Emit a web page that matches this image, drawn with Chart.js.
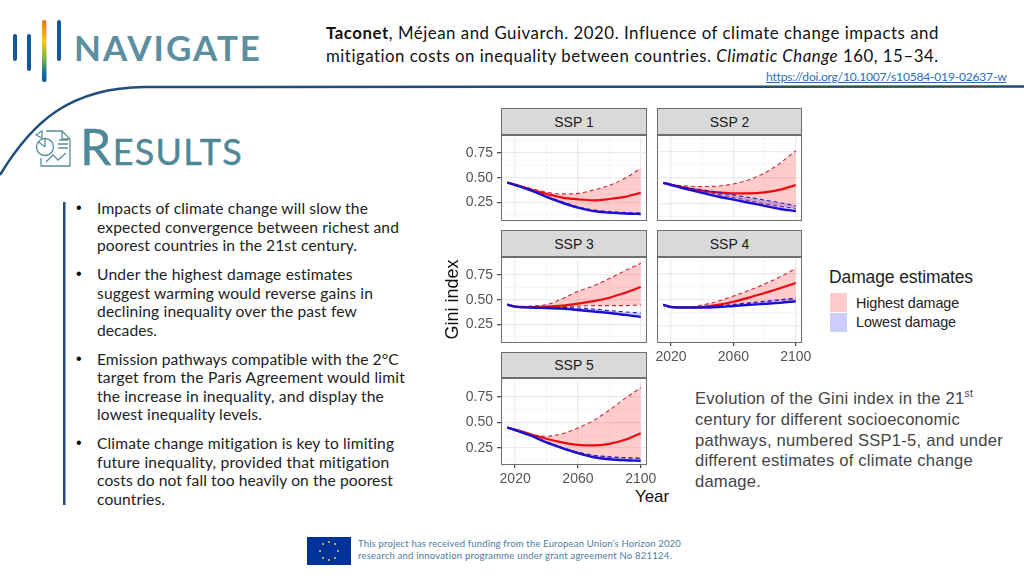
<!DOCTYPE html>
<html><head><meta charset="utf-8">
<script src="https://cdn.jsdelivr.net/npm/chart.js@4/dist/chart.umd.min.js"></script>
<style>
html,body{margin:0;padding:0;background:#fff;width:1024px;height:576px;overflow:hidden}
body{position:relative;font-family:Lato,sans-serif}
.t{position:absolute;white-space:nowrap;line-height:1;transform:translateY(-50%)}
canvas{position:absolute;filter:blur(.3px)}
.strip{position:absolute;background:#d9d9d9;border:1px solid #6e6e6e;box-sizing:border-box;text-align:center;font:14px "Liberation Sans",sans-serif;color:#1a1a1a}
.frame{position:absolute;border:1.4px solid #6e6e6e;box-sizing:border-box;pointer-events:none}
.body{font-size:15.600px;color:#222;margin-top:.6px}
.cap{font:16.600px "Liberation Sans",sans-serif;color:#444;margin-top:1px}
sup{font-size:.62em;line-height:0}
</style></head><body>
<svg width="1024" height="576" style="position:absolute;left:0;top:0">
<defs><linearGradient id="g" x1="0" y1="0" x2="0" y2="1"><stop offset="0" stop-color="#e8771c"/><stop offset=".35" stop-color="#f4cb1b"/><stop offset=".65" stop-color="#6fb04a"/><stop offset=".85" stop-color="#12709c"/><stop offset="1" stop-color="#0f5c9e"/></linearGradient></defs>
<g fill="#12599b"><rect x="13" y="34" width="4" height="27" rx="2"/><rect x="27" y="34" width="4" height="37" rx="2"/><rect x="57" y="20" width="4" height="41" rx="2"/></g>
<rect x="42" y="20" width="4.500" height="62" rx="2" fill="url(#g)"/>
<path d="M0 175C32 122 70 87.500 145 87L1024 86.500" fill="none" stroke="#1f4e79" stroke-width="2.500"/>
<g fill="none" stroke="#5b8f9b" stroke-width="1.300">
<path d="M46 131H62L70 139V166H41V158"/><path d="M62 131V139H70"/>
<circle cx="45" cy="147" r="8.500"/><path d="M45 147V139M45 147L38 141.500M36 135L42 131L42 138Z"/>
<path d="M59 140H68M58 144H68M58 148H68"/><path d="M46 162L53 155L58 160L66 153"/>
</g>
<rect x="307" y="537" width="44" height="28" fill="#003399"/>
<g fill="#e8d44a"><circle cx="329" cy="542" r="1"/><circle cx="335" cy="544" r="1"/><circle cx="338" cy="551" r="1"/><circle cx="335" cy="558" r="1"/><circle cx="329" cy="560" r="1"/><circle cx="323" cy="558" r="1"/><circle cx="320" cy="551" r="1"/><circle cx="323" cy="544" r="1"/></g>
<rect x="63" y="202" width="2.500" height="303" fill="#1f4e79"/>
<rect x="830" y="293" width="17" height="19" fill="#ffcccc"/><rect x="830" y="313" width="17" height="19" fill="#ccccff"/>
</svg>

<div class="t fit" data-x="74" data-y="47" data-r="262" style="font:700 35px Lato,sans-serif;color:#5b8fa0">NAVIGATE</div>
<div class="t fit" data-x="80" data-y="146" data-r="243" style="color:#4f8898;font-size:36px;-webkit-text-stroke:.4px #4f8898"><span style="font-size:50px">R</span>ESULTS</div>

<div class="t fit" data-x="326" data-y="33" data-r="939" style="font-size:16.800px;color:#111"><b>Taconet</b>, Méjean and Guivarch. 2020. Influence of climate change impacts and</div>
<div class="t fit" data-x="326" data-y="56" data-r="939" style="font-size:16.800px;color:#111">mitigation costs on inequality between countries. <i>Climatic Change</i> 160, 15–34.</div>
<div class="t fit" data-x="766" data-y="77" data-r="1006" style="font-size:12px;color:#2b6cb5;text-decoration:underline">https://doi.org/10.1007/s10584-019-02637-w</div>

<div class="t" style="left:76px;top:208px;font:16px 'Liberation Sans'">•</div>
<div class="t" style="left:76px;top:274px;font:16px 'Liberation Sans'">•</div>
<div class="t" style="left:76px;top:359px;font:16px 'Liberation Sans'">•</div>
<div class="t" style="left:76px;top:443px;font:16px 'Liberation Sans'">•</div>
<div class="t fit body" data-x="97" data-y="208" data-r="368">Impacts of climate change will slow the</div>
<div class="t fit body" data-x="97" data-y="227" data-r="399">expected convergence between richest and</div>
<div class="t fit body" data-x="97" data-y="245" data-r="357">poorest countries in the 21st century.</div>
<div class="t fit body" data-x="97" data-y="274" data-r="353">Under the highest damage estimates</div>
<div class="t fit body" data-x="97" data-y="293" data-r="373">suggest warming would reverse gains in</div>
<div class="t fit body" data-x="97" data-y="311" data-r="357">declining inequality over the past few</div>
<div class="t fit body" data-x="97" data-y="330" data-r="157">decades.</div>
<div class="t fit body" data-x="97" data-y="359" data-r="399">Emission pathways compatible with the 2°C</div>
<div class="t fit body" data-x="97" data-y="377" data-r="405">target from the Paris Agreement would limit</div>
<div class="t fit body" data-x="97" data-y="396" data-r="384">the increase in inequality, and display the</div>
<div class="t fit body" data-x="97" data-y="414" data-r="262">lowest inequality levels.</div>
<div class="t fit body" data-x="97" data-y="443" data-r="395">Climate change mitigation is key to limiting</div>
<div class="t fit body" data-x="97" data-y="462" data-r="390">future inequality, provided that mitigation</div>
<div class="t fit body" data-x="97" data-y="480" data-r="393">costs do not fall too heavily on the poorest</div>
<div class="t fit body" data-x="97" data-y="499" data-r="165">countries.</div>

<div class="t fit cap" data-x="695" data-y="398" data-r="973">Evolution of the Gini index in the 21<sup>st</sup></div>
<div class="t fit cap" data-x="695" data-y="419" data-r="960">century for different socioeconomic</div>
<div class="t fit cap" data-x="695" data-y="440" data-r="1003">pathways, numbered SSP1-5, and under</div>
<div class="t fit cap" data-x="695" data-y="460" data-r="973">different estimates of climate change</div>
<div class="t fit cap" data-x="695" data-y="481" data-r="761">damage.</div>

<div class="t fit" data-x="829" data-y="277" data-r="973" style="font:17.500px 'Liberation Sans',sans-serif;color:#222">Damage estimates</div>
<div class="t fit" data-x="856" data-y="303" data-r="959" style="font:14.400px 'Liberation Sans',sans-serif;color:#222">Highest damage</div>
<div class="t fit" data-x="856" data-y="322" data-r="956" style="font:14.400px 'Liberation Sans',sans-serif;color:#222">Lowest damage</div>
<div class="t fit" data-x="635" data-y="497" data-r="669" style="font:17px 'Liberation Sans',sans-serif;color:#111">Year</div>

<div class="t fit" data-x="358" data-y="544" data-r="681" style="font-size:9.500px;color:#4b7ba0">This project has received funding from the European Union’s Horizon 2020</div>
<div class="t fit" data-x="358" data-y="556" data-r="672" style="font-size:9.500px;color:#4b7ba0">research and innovation programme under grant agreement No 821124.</div>

<script>
const years = [2015,2020,2030,2040,2050,2060,2070,2080,2090,2100];
const xTicksMajor = [2020,2060,2100];
const xTicksMinor = [2040,2080];
const yTicksMajor = [0.25,0.5,0.75];
const yTicksMinor = [0.125,0.375,0.625,0.875];
const panelNames = ['SSP 1','SSP 2','SSP 3','SSP 4','SSP 5'];

const ssp1RedLow  = [.45,.43,.375,.315,.255,.205,.17,.155,.145,.14];
const ssp1RedHigh = [.45,.43,.39,.352,.335,.34,.375,.42,.495,.595];
const ssp1RedMid  = [.45,.43,.38,.335,.298,.28,.27,.283,.305,.345];
const ssp1BlueLow = [.45,.425,.37,.305,.245,.195,.16,.145,.135,.13];
const ssp1BlueHigh= [.45,.43,.375,.31,.25,.2,.17,.155,.145,.14];
const ssp1BlueMid = [.45,.425,.37,.305,.245,.195,.16,.145,.135,.13];

const ssp2RedLow  = [.45,.435,.40,.37,.34,.31,.28,.25,.225,.205];
const ssp2RedHigh = [.45,.435,.42,.415,.42,.44,.48,.545,.64,.76];
const ssp2RedMid  = [.45,.435,.40,.375,.36,.35,.35,.36,.385,.43];
const ssp2BlueLow = [.45,.43,.39,.355,.32,.29,.26,.23,.2,.18];
const ssp2BlueHigh= [.45,.435,.405,.385,.36,.335,.31,.285,.26,.23];
const ssp2BlueMid = [.45,.43,.39,.355,.32,.29,.26,.23,.2,.18];

const ssp3RedLow  = [.45,.43,.425,.425,.43,.435,.44,.44,.44,.445];
const ssp3RedHigh = [.45,.43,.435,.45,.51,.585,.64,.715,.795,.87];
const ssp3RedMid  = [.45,.43,.425,.43,.44,.46,.485,.52,.57,.63];
const ssp3BlueLow = [.45,.43,.42,.415,.41,.395,.38,.365,.345,.325];
const ssp3BlueHigh= [.45,.43,.42,.42,.42,.415,.405,.39,.375,.365];
const ssp3BlueMid = [.45,.43,.42,.415,.41,.395,.38,.365,.345,.325];

const ssp4RedLow  = [.45,.43,.425,.43,.44,.45,.465,.48,.495,.51];
const ssp4RedHigh = [.45,.43,.43,.45,.485,.535,.59,.65,.72,.80];
const ssp4RedMid  = [.45,.43,.425,.43,.45,.48,.52,.565,.61,.66];
const ssp4BlueLow = [.45,.43,.425,.425,.43,.44,.45,.46,.47,.485];
const ssp4BlueHigh= [.45,.43,.425,.43,.44,.455,.47,.485,.50,.515];
const ssp4BlueMid = [.45,.43,.425,.425,.43,.44,.45,.46,.47,.485];

const ssp5RedLow  = [.45,.425,.375,.31,.255,.205,.175,.16,.155,.15];
const ssp5RedHigh = [.45,.43,.38,.365,.39,.445,.52,.62,.735,.84];
const ssp5RedMid  = [.45,.43,.385,.34,.305,.28,.275,.29,.33,.395];
const ssp5BlueLow = [.45,.425,.37,.305,.25,.2,.16,.14,.13,.125];
const ssp5BlueHigh= [.45,.43,.375,.31,.255,.21,.18,.165,.155,.15];
const ssp5BlueMid = [.45,.425,.37,.305,.25,.2,.16,.14,.13,.125];

const seriesByPanel = [
 [ssp1RedLow,ssp1RedHigh,ssp1RedMid,ssp1BlueLow,ssp1BlueHigh,ssp1BlueMid],
 [ssp2RedLow,ssp2RedHigh,ssp2RedMid,ssp2BlueLow,ssp2BlueHigh,ssp2BlueMid],
 [ssp3RedLow,ssp3RedHigh,ssp3RedMid,ssp3BlueLow,ssp3BlueHigh,ssp3BlueMid],
 [ssp4RedLow,ssp4RedHigh,ssp4RedMid,ssp4BlueLow,ssp4BlueHigh,ssp4BlueMid],
 [ssp5RedLow,ssp5RedHigh,ssp5RedMid,ssp5BlueLow,ssp5BlueHigh,ssp5BlueMid]];

const geo = [
 {l:501,r:647,st:108,t:135,b:220,yAxis:true,xAxis:false},
 {l:657,r:802,st:108,t:135,b:220,yAxis:false,xAxis:false},
 {l:501,r:647,st:230,t:257,b:342,yAxis:true,xAxis:false,yTitle:'Gini index'},
 {l:657,r:802,st:230,t:257,b:342,yAxis:false,xAxis:true},
 {l:501,r:647,st:352,t:378,b:464,yAxis:true,xAxis:true}];

const pts = a => a.map((v,i)=>({x:years[i],y:v}));
const line = (a,color,w,dash,order) => ({data:pts(a),borderColor:color,borderWidth:w,borderDash:dash,order,fill:false,
  pointRadius:0,cubicInterpolationMode:'monotone'});

geo.forEach((g,i)=>{
  const padT=10,padB=10,padL=g.yAxis?0:20,padR=22, yW=g.yAxis?61:0, xH=g.xAxis?26:0;
  const c=document.createElement('canvas');
  c.width=padL+yW+(g.r-g.l)+padR; c.height=padT+(g.b-g.t)+xH+padB;
  c.style.left=(g.l-yW-padL)+'px'; c.style.top=(g.t-padT)+'px';
  document.body.appendChild(c);
  const s=seriesByPanel[i];
  const ds=[
    line(s[0],'#c8283c',1.1,[4,3],6),
    Object.assign(line(s[1],'#c8283c',1.1,[4,3],6),{fill:'-1',backgroundColor:'rgba(255,0,0,.2)'}),
    line(s[2],'#ee0a10',2.2,[],5),
    line(s[3],'#2a20c0',1.1,[4,3],3),
    Object.assign(line(s[4],'#2a20c0',1.1,[4,3],3),{fill:'-1',backgroundColor:'rgba(0,0,255,.2)'}),
    line(s[5],'#1c10d0',2.4,[],1)];
  new Chart(c,{type:'line',data:{datasets:ds},options:{
    responsive:false,animation:false,devicePixelRatio:1,
    layout:{padding:{top:padT,right:padR,left:padL,bottom:padB}},
    plugins:{legend:{display:false},tooltip:{enabled:false}},
    scales:{
      x:{type:'linear',min:2011,max:2104,
        afterBuildTicks:a=>{a.ticks=[...xTicksMajor,...xTicksMinor].sort((p,q)=>p-q).map(v=>({value:v}));},
        afterFit:a=>{a.height=xH;},
        border:{display:false},
        grid:{color:t=>xTicksMajor.includes(t.tick.value)?'#ebebeb':'#f4f4f4',
              lineWidth:t=>xTicksMajor.includes(t.tick.value)?1.3:.8,
              tickColor:t=>xTicksMajor.includes(t.tick.value)&&g.xAxis?'#444':'rgba(0,0,0,0)',
              tickLength:g.xAxis?4:0,tickWidth:1.2},
        ticks:{display:g.xAxis,autoSkip:false,maxRotation:0,padding:3,color:'#555',
               font:{family:'Liberation Sans',size:14},
               callback:v=>xTicksMajor.includes(v)?String(v):''}},
      y:{type:'linear',min:.094,max:.91,
        afterBuildTicks:a=>{a.ticks=[...yTicksMajor,...yTicksMinor].sort((p,q)=>p-q).map(v=>({value:v}));},
        afterFit:a=>{a.width=yW;},
        border:{display:false},
        title:{display:!!g.yTitle,text:g.yTitle||'',color:'#111',padding:{top:2,bottom:0},font:{family:'Liberation Sans',size:18}},
        grid:{color:t=>yTicksMajor.includes(t.tick.value)?'#ebebeb':'#f4f4f4',
              lineWidth:t=>yTicksMajor.includes(t.tick.value)?1.3:.8,
              tickColor:t=>yTicksMajor.includes(t.tick.value)&&g.yAxis?'#444':'rgba(0,0,0,0)',
              tickLength:g.yAxis?4:0,tickWidth:1.2},
        ticks:{display:g.yAxis,autoSkip:false,padding:4,color:'#555',
               font:{family:'Liberation Sans',size:14},
               callback:v=>yTicksMajor.includes(v)?v.toFixed(2):''}}
    }}});
  const st=document.createElement('div');st.className='strip';
  st.style.cssText=`left:${g.l}px;top:${g.st}px;width:${g.r-g.l}px;height:${g.t-g.st}px;line-height:${g.t-g.st-1}px`;
  st.textContent=panelNames[i];document.body.appendChild(st);
  const fr=document.createElement('div');fr.className='frame';
  fr.style.cssText=`left:${g.l}px;top:${g.t}px;width:${g.r-g.l}px;height:${g.b-g.t+1}px`;
  document.body.appendChild(fr);
});

/* fit each text line to the measured extent in the reference */
document.querySelectorAll('.fit').forEach(el=>{
  el.style.left=el.dataset.x+'px'; el.style.top=el.dataset.y+'px';
  const target=el.dataset.r-el.dataset.x;
  const w=el.getBoundingClientRect().width;
  const n=el.textContent.length;
  el.style.letterSpacing=((target-w)/n).toFixed(3)+'px';
});
</script>
</body></html>
